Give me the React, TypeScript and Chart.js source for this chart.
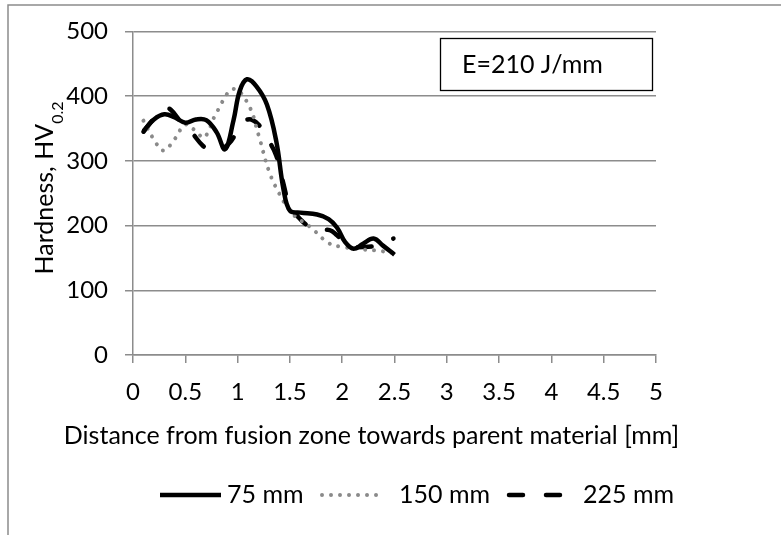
import React, { useEffect, useRef } from "react";
import { Chart, registerables } from "chart.js";

Chart.register(...registerables);

// ---- data ----
const seriesLabels = ["75 mm", "150 mm", "225 mm"];

const x75 = [0.1, 0.2, 0.3, 0.4, 0.5, 0.6, 0.7, 0.8, 0.88, 0.96, 1.02, 1.09, 1.18, 1.28, 1.37, 1.44, 1.5, 1.6, 1.76, 1.87, 1.95, 2.03, 2.11, 2.2, 2.3, 2.39, 2.5];
const y75 = [346, 364, 372, 367, 359, 364, 363, 344, 318, 362, 408, 426, 415, 387, 330, 255, 223, 220, 217, 210, 197, 174, 164, 172, 180, 169, 155];

const x150 = [0.1, 0.2, 0.29, 0.4, 0.5, 0.6, 0.68, 0.8, 0.96, 1.1, 1.2, 1.3, 1.4, 1.52, 1.7, 1.87, 2.0, 2.2, 2.35, 2.5];
const y150 = [362, 333, 316, 334, 356, 346, 336, 375, 411, 388, 340, 284, 249, 219, 197, 173, 167, 163, 161, 157];

const x225 = [0.1, 0.2, 0.32, 0.45, 0.56, 0.67, 0.77, 0.85, 0.94, 1.02, 1.1, 1.2, 1.29, 1.37, 1.43, 1.5, 1.61, 1.7, 1.77, 1.88, 1.95, 2.07, 2.2, 2.3, 2.38, 2.49];
const y225 = [345, 365, 382, 362, 344, 323, 314, 318, 331, 352, 364, 356, 333, 308, 270, 231, 208, 197, 192, 193, 185, 168, 167, 168, 172, 180];

const xMin = 0;
const xMax = 5;
const xStep = 0.5;
const yMin = 0;
const yMax = 500;
const yStep = 100;

const yTitleMain = "Hardness, HV";
const yTitleSub = "0.2";
const xTitle = "Distance from fusion zone towards parent material [mm]";
const annotationText = "E=210 J/mm";

// ---- styles ----
const FONT = "Lato, 'Open Sans', sans-serif";
const GRID = "#8c8c8c";

const toPoints = (xs: number[], ys: number[]) => xs.map((x, i) => ({ x, y: ys[i] }));

const legendSampleStart = [160, 322, 509];
const legendSampleEnd = [221, 382, 560];
const legendTextX = [227, 399, 583];

const decorPlugin = {
  id: "decor",
  afterDraw(chart: any) {
    const ctx: CanvasRenderingContext2D = chart.ctx;
    ctx.save();
    // outer chart border (partially visible)
    ctx.strokeStyle = GRID;
    ctx.lineWidth = 1.5;
    ctx.beginPath();
    ctx.moveTo(8, 535);
    ctx.lineTo(8, 5);
    ctx.lineTo(781, 5);
    ctx.stroke();

    // annotation box
    ctx.fillStyle = "#fff";
    ctx.fillRect(440.5, 38.5, 212, 52);
    ctx.strokeStyle = "#000";
    ctx.lineWidth = 1.3;
    ctx.strokeRect(440.5, 38.5, 212, 52);
    ctx.fillStyle = "#000";
    ctx.font = `25px ${FONT}`;
    ctx.textAlign = "left";
    ctx.textBaseline = "alphabetic";
    ctx.fillText(annotationText, 462, 73);

    // x title
    ctx.font = `25px ${FONT}`;
    ctx.textAlign = "center";
    ctx.fillText(xTitle, 371.5, 444);

    // y title with subscript
    ctx.save();
    ctx.translate(45, 188);
    ctx.rotate(-Math.PI / 2);
    ctx.textAlign = "left";
    ctx.font = `25px ${FONT}`;
    const w1 = ctx.measureText(yTitleMain).width;
    ctx.font = `16px ${FONT}`;
    const w2 = ctx.measureText(yTitleSub).width;
    const start = -(w1 + w2) / 2;
    ctx.font = `25px ${FONT}`;
    ctx.fillText(yTitleMain, start, 8);
    ctx.font = `16px ${FONT}`;
    ctx.fillText(yTitleSub, start + w1, 18);
    ctx.restore();

    // legend
    chart.data.datasets.forEach((ds: any, i: number) => {
      ctx.save();
      ctx.strokeStyle = ds.borderColor;
      ctx.lineWidth = ds.borderWidth;
      ctx.lineCap = ds.borderCapStyle || "butt";
      ctx.setLineDash(ds.borderDash || []);
      ctx.beginPath();
      ctx.moveTo(legendSampleStart[i], 495);
      ctx.lineTo(legendSampleEnd[i], 495);
      ctx.stroke();
      ctx.restore();
      ctx.fillStyle = "#000";
      ctx.font = `25px ${FONT}`;
      ctx.textAlign = "left";
      ctx.fillText(ds.label, legendTextX[i], 503);
    });
    ctx.restore();
  },
};

export default function App() {
  const canvasRef = useRef<HTMLCanvasElement | null>(null);

  useEffect(() => {
    if (!canvasRef.current) return;
    const chart = new Chart(canvasRef.current, {
      type: "line",
      data: {
        datasets: [
          {
            label: seriesLabels[0],
            data: toPoints(x75, y75),
            borderColor: "#000",
            borderWidth: 4.5,
            borderCapStyle: "butt",
            borderJoinStyle: "round",
            pointRadius: 0,
            tension: 0.4,
            fill: false,
          },
          {
            label: seriesLabels[1],
            data: toPoints(x150, y150),
            borderColor: "#8a8a8a",
            borderWidth: 4,
            borderDash: [0.001, 9],
            borderCapStyle: "round",
            pointRadius: 0,
            tension: 0.4,
            fill: false,
          },
          {
            label: seriesLabels[2],
            data: toPoints(x225, y225),
            borderColor: "#000",
            borderWidth: 4.5,
            borderDash: [14, 23],
            borderCapStyle: "round",
            pointRadius: 0,
            tension: 0.4,
            fill: false,
          },
        ],
      },
      options: {
        responsive: false,
        animation: false,
        events: [],
        layout: { padding: { left: 0, top: 30, right: 125, bottom: 0 } },
        plugins: {
          legend: { display: false },
          tooltip: { enabled: false },
          title: { display: false },
        },
        scales: {
          x: {
            type: "linear",
            min: xMin,
            max: xMax,
            afterFit: (s: any) => {
              s.height = 180;
            },
            ticks: {
              stepSize: xStep,
              color: "#000",
              font: { family: FONT, size: 24 },
              padding: 15,
              maxRotation: 0,
              autoSkip: false,
              callback: (v: any) => String(Number(v)),
            },
            grid: {
              drawOnChartArea: false,
              drawTicks: true,
              tickLength: 8,
              color: GRID,
              lineWidth: 1.5,
            },
            border: { color: GRID, width: 1.5 },
          },
          y: {
            type: "linear",
            min: yMin,
            max: yMax,
            afterFit: (s: any) => {
              s.width = 133;
            },
            ticks: {
              stepSize: yStep,
              color: "#000",
              font: { family: FONT, size: 24 },
              padding: 17,
            },
            grid: {
              drawOnChartArea: true,
              drawTicks: true,
              tickLength: 8,
              color: GRID,
              lineWidth: 1.5,
            },
            border: { color: GRID, width: 1.5 },
          },
        },
      },
      plugins: [decorPlugin],
    } as any);
    return () => chart.destroy();
  }, []);

  return (
    <div style={{ position: "absolute", left: 0, top: 0, width: 781, height: 535, background: "#fff" }}>
      <canvas ref={canvasRef} width={781} height={535} style={{ display: "block" }} />
    </div>
  );
}
